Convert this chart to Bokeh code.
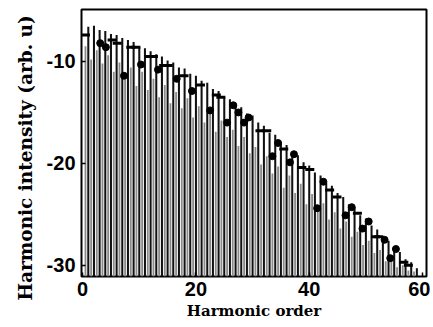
from bokeh.plotting import figure
from bokeh.models import Range1d, FixedTicker, Title
from bokeh.embed import file_html
from bokeh.resources import INLINE

# ---- data ----
black_order = list(range(1, 60))
black_top = [-6.6, -6.5, -6.9, -7.0, -7.3, -7.4, -7.7, -7.9, -8.1, -8.6, -8.7, -9.0, -9.3, -9.5, -9.9,
             -10.1, -10.6, -10.7, -11.2, -11.4, -11.9, -12.1, -12.7, -12.9, -13.5, -13.7, -14.3, -14.5,
             -15.1, -15.3, -16.0, -16.3, -17.0, -17.2, -17.9, -18.2, -18.9, -19.2, -19.9, -20.2, -20.9,
             -21.2, -21.9, -22.2, -22.9, -23.3, -24.0, -24.3, -25.1, -25.4, -26.1, -26.5, -27.2, -27.6,
             -28.3, -28.7, -29.4, -29.7, -30.3]
gray_order = [n + 0.5 for n in range(0, 59)]
gray_top = [-8.5, -9.8, -8.9, -10.2, -9.4, -11.0, -10.1, -11.3, -10.6, -12.4, -11.0, -12.8, -11.7, -13.5,
            -12.3, -14.1, -13.0, -14.6, -13.6, -15.5, -14.4, -16.0, -15.0, -16.9, -15.8, -17.4, -16.7,
            -18.3, -17.4, -19.0, -18.4, -20.1, -19.3, -21.0, -20.3, -22.4, -21.2, -22.9, -22.0, -24.0,
            -23.0, -24.6, -23.9, -25.5, -24.8, -26.4, -25.7, -27.2, -26.7, -28.0, -27.6, -28.8, -28.5,
            -29.6, -29.3, -30.2, -30.0, -30.5, -30.6]
dot_order = [3.1, 4.1, 7.3, 10.3, 13.3, 16.6, 19.3, 22.5, 25.5, 26.6, 27.5, 28.5, 29.3, 33.5, 34.5,
             36.6, 37.3, 41.4, 42.5, 46.4, 47.5, 49.4, 50.5, 53.3, 54.3, 55.3]
dot_val = [-8.2, -8.6, -11.4, -10.3, -10.8, -11.7, -12.9, -14.8, -16.0, -14.3, -15.0, -16.0, -15.5,
           -19.3, -18.0, -19.9, -19.1, -24.4, -21.8, -25.1, -24.3, -26.4, -25.7, -27.5, -29.3, -28.4]
dash_order = [0.5, 5.2, 6.1, 8.5, 9.4, 11.7, 12.5, 14.3, 15.1, 17.9, 20.8, 23.6, 24.4, 31.3, 32.5,
              35.5, 38.7, 40.1, 43.6, 44.9, 48.5, 51.7, 52.3, 56.7, 57.5]
dash_val = [-7.4, -7.9, -8.2, -8.6, -8.6, -9.5, -9.5, -10.4, -10.4, -11.4, -12.3, -13.3, -13.5, -16.8,
            -16.8, -18.6, -20.4, -20.6, -22.6, -23.3, -24.9, -27.2, -27.2, -29.7, -30.0]
x_ticks = [0, 20, 40, 60]
y_ticks = [-30, -20, -10]
y_tick_labels = {-30: "-30", -20: "-20", -10: "-10"}
y_floor = -31.1

p = figure(width=430, height=325, output_backend="svg", toolbar_location=None,
           x_range=Range1d(-0.2, 60.7), y_range=Range1d(y_floor, -4.9),
           min_border_left=81, min_border_right=4, min_border_top=9, min_border_bottom=49)
p.background_fill_color = "white"
p.border_fill_color = "white"
p.outline_line_color = "black"
p.outline_line_width = 2
p.grid.visible = False

p.vbar(x=gray_order, top=gray_top, bottom=y_floor, width=0.32, fill_color="#8a8a8a",
       line_color=None)
p.vbar(x=black_order, top=black_top, bottom=y_floor, width=0.36, fill_color="#111111",
       line_color=None)
p.scatter(x=dash_order, y=dash_val, marker="dash", size=9, line_width=3, line_color="black")
p.scatter(x=dot_order, y=dot_val, marker="circle", size=7, fill_color="black", line_color="black")

for ax in (p.xaxis[0], p.yaxis[0]):
    ax.axis_line_color = None
    ax.major_tick_in = 4
    ax.major_tick_out = 0
    ax.major_tick_line_color = "black"
    ax.major_tick_line_width = 1.5
    ax.minor_tick_line_color = None
    ax.major_label_text_font = "Liberation Sans"
    ax.major_label_text_font_style = "bold"
    ax.major_label_text_font_size = "20px"
    ax.major_label_text_color = "black"
    ax.axis_label_text_font = "DejaVu Serif"
    ax.axis_label_text_font_style = "bold"
    ax.axis_label_text_color = "black"

p.xaxis.ticker = FixedTicker(ticks=x_ticks)
p.yaxis.ticker = FixedTicker(ticks=y_ticks)
p.yaxis.major_label_overrides = y_tick_labels
p.xaxis.major_label_standoff = 5
p.yaxis.major_label_standoff = 6
p.xaxis.axis_label = "Harmonic order"
p.xaxis.axis_label_text_font_size = "15px"
p.xaxis.axis_label_standoff = 3

ytitle = Title(text="Harmonic intensity (arb. u)", align="left", offset=-24,
               text_font="DejaVu Serif", text_font_style="bold", text_font_size="18.5px",
               text_color="black", standoff=16)
p.add_layout(ytitle, "left")

open("out.html", "w").write(file_html(p, INLINE))
